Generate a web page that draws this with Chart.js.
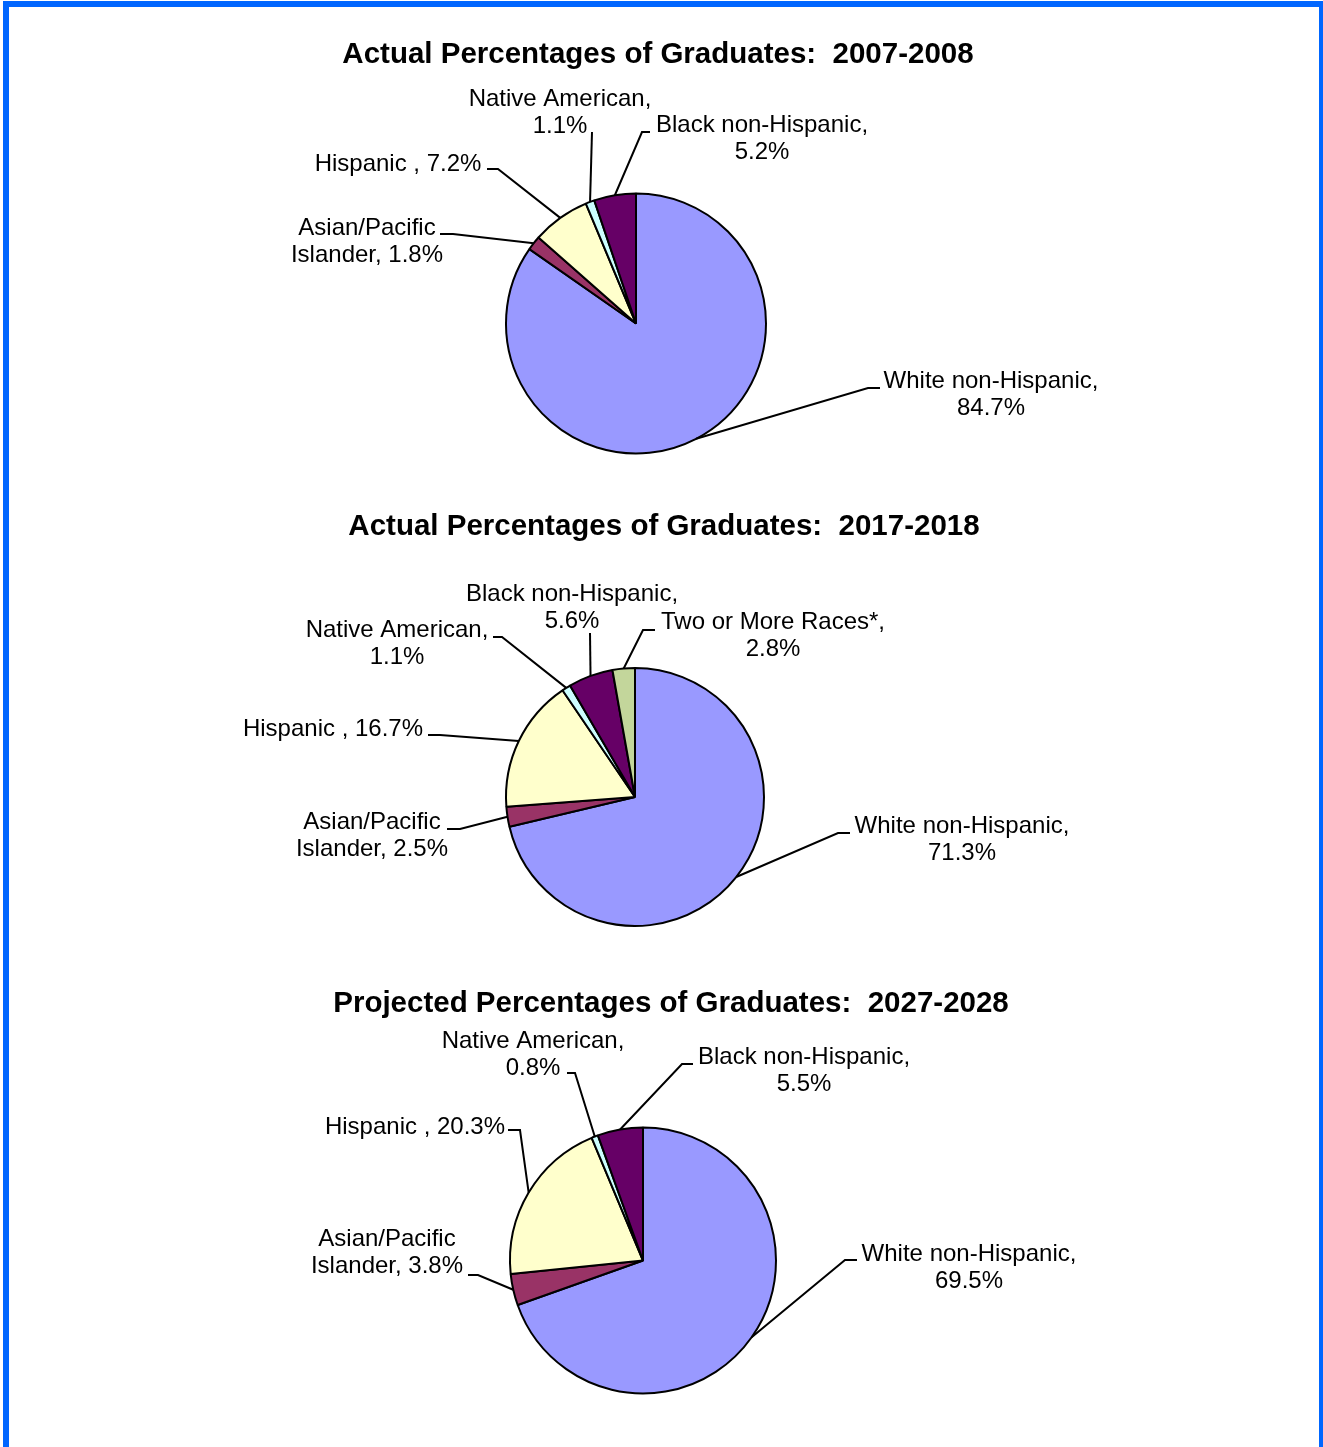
<!DOCTYPE html>
<html>
<head>
<meta charset="utf-8">
<script src="https://cdn.jsdelivr.net/npm/chart.js@4.4.1/dist/chart.umd.min.js"></script>
<style>
  html, body { margin: 0; padding: 0; background: #fff; overflow: hidden; }
  body { width: 1323px; height: 1447px; position: relative; }
  #frame { position: absolute; left: 3px; top: 1px; width: 1310px; height: 1500px; border: 6px solid #0066ff; }
  .band { position: absolute; left: 0; width: 1323px; }
  canvas { display: block; }
</style>
</head>
<body>
<div id="frame"></div>
<div class="band" style="top:0px"><canvas id="pie2008" width="1323" height="470"></canvas></div>
<div class="band" style="top:470px"><canvas id="pie2018" width="1323" height="480"></canvas></div>
<div class="band" style="top:950px"><canvas id="pie2028" width="1323" height="497"></canvas></div>
<script>
// --- data ---
const groups5 = ['White non-Hispanic', 'Asian/Pacific Islander', 'Hispanic ', 'Native American', 'Black non-Hispanic'];
const groups6 = ['White non-Hispanic', 'Asian/Pacific Islander', 'Hispanic ', 'Native American', 'Black non-Hispanic', 'Two or More Races*'];
const values2008 = [84.7, 1.8, 7.2, 1.1, 5.2];
const values2018 = [71.3, 2.5, 16.7, 1.1, 5.6, 2.8];
const values2028 = [69.5, 3.8, 20.3, 0.8, 5.5];
const title2008 = 'Actual Percentages of Graduates:  2007-2008';
const title2018 = 'Actual Percentages of Graduates:  2017-2018';
const title2028 = 'Projected Percentages of Graduates:  2027-2028';

const sliceColors = ['#9999ff', '#993366', '#ffffcc', '#ccffff', '#660066', '#c3d69b'];

// label placement (page coords): text center x, first baseline y, wrap after n words,
// leader line: horizontal from hx to ex at hy, then to the slice edge
const layout2008 = [
  { x: 991, y: 388, wrap: 2, hx: 880, ex: 868, hy: 388 },
  { x: 367, y: 235, wrap: 1, hx: 440, ex: 453, hy: 234 },
  { x: 398, y: 171, wrap: 0, hx: 487, ex: 498, hy: 169 },
  { x: 560, y: 106, wrap: 2, hx: 592, ex: 592, hy: 132 },
  { x: 762, y: 132, wrap: 2, hx: 650, ex: 642, hy: 132 }
];
const layout2018 = [
  { x: 962, y: 833, wrap: 2, hx: 850, ex: 838, hy: 833 },
  { x: 372, y: 829, wrap: 1, hx: 447, ex: 460, hy: 829 },
  { x: 333, y: 736, wrap: 0, hx: 428, ex: 440, hy: 735 },
  { x: 397, y: 637, wrap: 2, hx: 493, ex: 502, hy: 637 },
  { x: 572, y: 601, wrap: 2, hx: 590, ex: 590, hy: 633 },
  { x: 773, y: 629, wrap: 4, hx: 655, ex: 643, hy: 630 }
];
const layout2028 = [
  { x: 969, y: 1261, wrap: 2, hx: 857, ex: 845, hy: 1260 },
  { x: 387, y: 1246, wrap: 1, hx: 468, ex: 478, hy: 1275 },
  { x: 415, y: 1134, wrap: 0, hx: 508, ex: 520, hy: 1130 },
  { x: 533, y: 1048, wrap: 2, hx: 567, ex: 575, hy: 1073 },
  { x: 804, y: 1064, wrap: 2, hx: 693, ex: 682, hy: 1064 }
];

function labelLines(name, value, wrap) {
  const text = name + ', ' + value.toFixed(1) + '%';
  if (!wrap) return [text];
  const words = text.split(' ');
  return [words.slice(0, wrap).join(' '), words.slice(wrap).join(' ')];
}

function callouts(title, titleX, titleY, layout, top) {
  return {
    id: 'callouts',
    afterDatasetsDraw(chart) {
      const ctx = chart.ctx;
      const meta = chart.getDatasetMeta(0);
      const data = chart.data.datasets[0].data;
      ctx.save();
      ctx.fillStyle = '#000';
      ctx.textAlign = 'center';
      ctx.textBaseline = 'alphabetic';
      ctx.font = 'bold 29.5px "Liberation Sans", Arial, sans-serif';
      ctx.fillText(title, titleX, titleY - top);

      ctx.strokeStyle = '#000';
      ctx.lineWidth = 2;
      ctx.font = '24px "Liberation Sans", Arial, sans-serif';
      meta.data.forEach((arc, i) => {
        const p = arc.getProps(['x', 'y', 'startAngle', 'endAngle', 'outerRadius'], true);
        const mid = (p.startAngle + p.endAngle) / 2;
        const ax = p.x + Math.cos(mid) * p.outerRadius;
        const ay = p.y + Math.sin(mid) * p.outerRadius;
        const L = layout[i];
        ctx.beginPath();
        ctx.moveTo(L.hx, L.hy - top);
        ctx.lineTo(L.ex, L.hy - top);
        ctx.lineTo(ax, ay);
        ctx.stroke();
        labelLines(chart.data.labels[i], data[i], L.wrap).forEach((line, k) => {
          ctx.fillText(line, L.x, L.y - top + k * 27);
        });
      });
      ctx.restore();
    }
  };
}

function makePie(id, labels, values, cx, cy, r, height, top, title, titleX, titleY, layout) {
  const half = 140;
  new Chart(document.getElementById(id), {
    type: 'pie',
    data: {
      labels: labels,
      datasets: [{
        data: values,
        backgroundColor: sliceColors.slice(0, values.length),
        borderColor: '#000',
        borderWidth: 2,
        radius: r
      }]
    },
    options: {
      responsive: false,
      animation: false,
      layout: {
        padding: { left: cx - half, right: 1323 - cx - half, top: cy - half, bottom: height - cy - half }
      },
      plugins: { legend: { display: false }, tooltip: { enabled: false } }
    },
    plugins: [callouts(title, titleX, titleY, layout, top)]
  });
}

makePie('pie2008', groups5, values2008, 636, 323.5, 130, 470, 0, title2008, 658, 63, layout2008);
makePie('pie2018', groups6, values2018, 635, 327, 129, 480, 470, title2018, 664, 535, layout2018);
makePie('pie2028', groups5, values2028, 643, 310.5, 133, 497, 950, title2028, 671, 1012, layout2028);
</script>
</body>
</html>
